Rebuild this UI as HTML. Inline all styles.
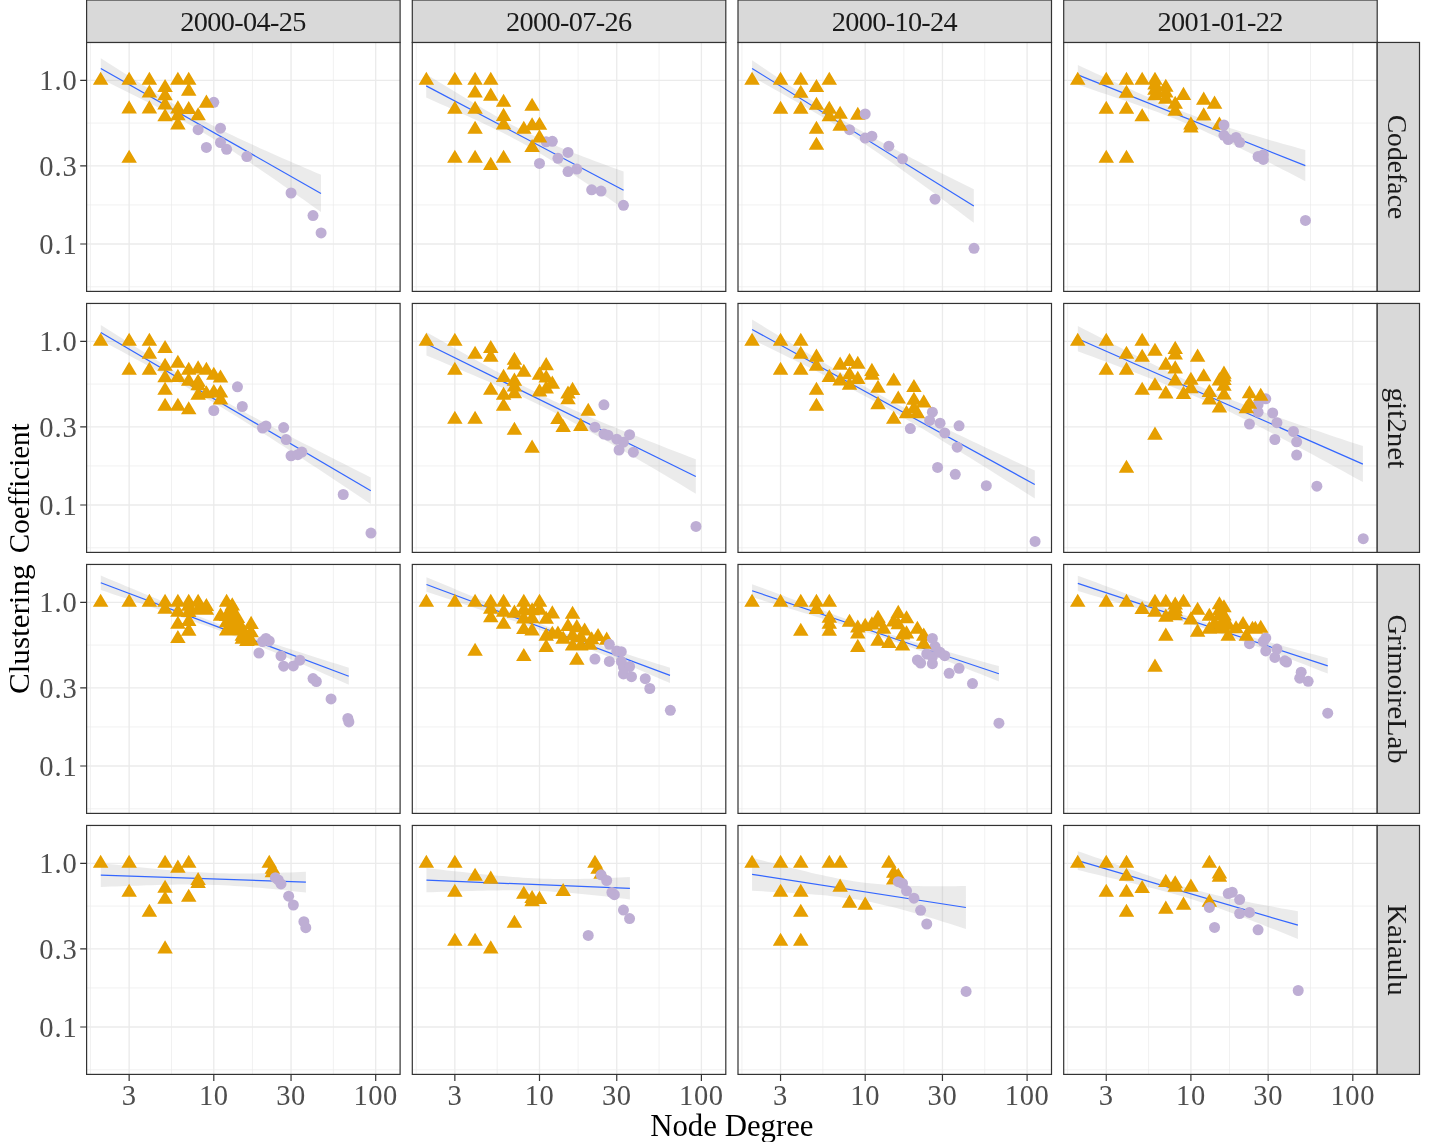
<!DOCTYPE html>
<html><head><meta charset="utf-8"><title>chart</title>
<style>html,body{margin:0;padding:0;background:#fff;overflow:hidden}svg{display:block}</style></head>
<body>
<svg width="1437" height="1142" viewBox="0 0 1437 1142" font-family="'Liberation Serif', serif">
<rect width="1437" height="1142" fill="#fff"/>
<defs><filter id="idf" x="0" y="0" width="1437" height="1142" filterUnits="userSpaceOnUse" color-interpolation-filters="sRGB"><feOffset dx="0" dy="0"/></filter>
<clipPath id="c00"><rect x="86.6" y="42.45" width="313.5" height="248.95"/></clipPath>
<clipPath id="c01"><rect x="412.3" y="42.45" width="313.5" height="248.95"/></clipPath>
<clipPath id="c02"><rect x="738" y="42.45" width="313.5" height="248.95"/></clipPath>
<clipPath id="c03"><rect x="1063.7" y="42.45" width="313.5" height="248.95"/></clipPath>
<clipPath id="c10"><rect x="86.6" y="303.45" width="313.5" height="248.95"/></clipPath>
<clipPath id="c11"><rect x="412.3" y="303.45" width="313.5" height="248.95"/></clipPath>
<clipPath id="c12"><rect x="738" y="303.45" width="313.5" height="248.95"/></clipPath>
<clipPath id="c13"><rect x="1063.7" y="303.45" width="313.5" height="248.95"/></clipPath>
<clipPath id="c20"><rect x="86.6" y="564.45" width="313.5" height="248.95"/></clipPath>
<clipPath id="c21"><rect x="412.3" y="564.45" width="313.5" height="248.95"/></clipPath>
<clipPath id="c22"><rect x="738" y="564.45" width="313.5" height="248.95"/></clipPath>
<clipPath id="c23"><rect x="1063.7" y="564.45" width="313.5" height="248.95"/></clipPath>
<clipPath id="c30"><rect x="86.6" y="825.45" width="313.5" height="248.95"/></clipPath>
<clipPath id="c31"><rect x="412.3" y="825.45" width="313.5" height="248.95"/></clipPath>
<clipPath id="c32"><rect x="738" y="825.45" width="313.5" height="248.95"/></clipPath>
<clipPath id="c33"><rect x="1063.7" y="825.45" width="313.5" height="248.95"/></clipPath>
</defs>
<g clip-path="url(#c00)">
<path d="M90.53 42.45V291.4M171.48 42.45V291.4M252.43 42.45V291.4M333.38 42.45V291.4M86.6 123.09H400.1M86.6 204.94H400.1M86.6 286.79H400.1" stroke="#EBEBEB" stroke-width="0.7" fill="none"/>
<path d="M129.15 42.45V291.4M213.8 42.45V291.4M291.05 42.45V291.4M375.7 42.45V291.4M86.6 80.3H400.1M86.6 165.9H400.1M86.6 244H400.1" stroke="#EBEBEB" stroke-width="1.35" fill="none"/>
<path d="M100.8 58.3L106.3 61.8L111.81 65.31L117.31 68.81L122.82 72.31L128.32 75.8L133.83 79.29L139.33 82.76L144.84 86.22L150.34 89.67L155.85 93.09L161.35 96.47L166.86 99.83L172.37 103.14L177.87 106.39L183.38 109.6L188.88 112.73L194.38 115.81L199.89 118.81L205.39 121.75L210.9 124.62L216.41 127.43L221.91 130.19L227.41 132.9L232.92 135.57L238.43 138.19L243.93 140.78L249.44 143.34L254.94 145.87L260.44 148.38L265.95 150.86L271.45 153.32L276.96 155.76L282.46 158.19L287.97 160.59L293.47 162.98L298.98 165.35L304.49 167.71L309.99 170.05L315.5 172.38L321 174.7L321 212.1L315.5 208.17L309.99 204.26L304.49 200.35L298.98 196.47L293.47 192.6L287.97 188.74L282.46 184.9L276.96 181.08L271.45 177.27L265.95 173.49L260.44 169.73L254.94 165.99L249.44 162.27L243.93 158.59L238.43 154.93L232.92 151.31L227.41 147.73L221.91 144.2L216.41 140.71L210.9 137.28L205.39 133.91L199.89 130.6L194.38 127.36L188.88 124.19L183.38 121.08L177.87 118.04L172.37 115.05L166.86 112.11L161.35 109.22L155.85 106.36L150.34 103.54L144.84 100.74L139.33 97.95L133.83 95.18L128.32 92.42L122.82 89.67L117.31 86.93L111.81 84.18L106.3 81.44L100.8 78.7Z" fill="#999999" fill-opacity="0.2"/>
<path d="M100.8 68.5L321 193.4" stroke="#3366FF" stroke-width="1.2" fill="none"/>
<circle cx="213.8" cy="102.3" r="5.5" fill="#BEAED4"/>
<circle cx="198.11" cy="129.7" r="5.5" fill="#BEAED4"/>
<circle cx="220.5" cy="128.2" r="5.5" fill="#BEAED4"/>
<circle cx="206.39" cy="147.4" r="5.5" fill="#BEAED4"/>
<circle cx="220.5" cy="142.5" r="5.5" fill="#BEAED4"/>
<circle cx="226.62" cy="149.3" r="5.5" fill="#BEAED4"/>
<circle cx="246.85" cy="156.6" r="5.5" fill="#BEAED4"/>
<circle cx="291.05" cy="193" r="5.5" fill="#BEAED4"/>
<circle cx="313.01" cy="215.6" r="5.5" fill="#BEAED4"/>
<circle cx="321.1" cy="232.9" r="5.5" fill="#BEAED4"/>
<path d="M100.64 71.77L108.39 84.86H92.89ZM129.15 71.77L136.9 84.86H121.4ZM149.37 71.77L157.12 84.86H141.62ZM177.88 71.77L185.63 84.86H170.13ZM188.72 71.77L196.47 84.86H180.97ZM165.06 78.97L172.81 92.06H157.31ZM149.37 84.47L157.12 97.56H141.62ZM188.72 82.57L196.47 95.66H180.97ZM165.06 87.27L172.81 100.36H157.31ZM165.06 96.37L172.81 109.46H157.31ZM129.15 100.37L136.9 113.46H121.4ZM149.37 100.37L157.12 113.46H141.62ZM165.06 108.17L172.81 121.27H157.31ZM177.88 100.37L185.63 113.46H170.13ZM188.72 100.97L196.47 114.06H180.97ZM177.88 107.27L185.63 120.36H170.13ZM177.88 116.37L185.63 129.47H170.13ZM198.11 107.27L205.86 120.36H190.36ZM206.39 94.57L214.14 107.66H198.64ZM129.15 149.67L136.9 162.77H121.4Z" fill="#E69F00"/>
</g>
<rect x="86.6" y="42.45" width="313.5" height="248.95" fill="none" stroke="#333333" stroke-width="1.2"/>
<g clip-path="url(#c01)">
<path d="M416.23 42.45V291.4M497.18 42.45V291.4M578.13 42.45V291.4M659.08 42.45V291.4M412.3 123.09H725.8M412.3 204.94H725.8M412.3 286.79H725.8" stroke="#EBEBEB" stroke-width="0.7" fill="none"/>
<path d="M454.85 42.45V291.4M539.5 42.45V291.4M616.75 42.45V291.4M701.4 42.45V291.4M412.3 80.3H725.8M412.3 165.9H725.8M412.3 244H725.8" stroke="#EBEBEB" stroke-width="1.35" fill="none"/>
<path d="M426.2 74.4L431.13 77.37L436.07 80.34L441 83.32L445.94 86.3L450.88 89.28L455.81 92.26L460.75 95.24L465.68 98.21L470.62 101.17L475.55 104.11L480.49 107.04L485.42 109.95L490.36 112.82L495.29 115.67L500.23 118.46L505.16 121.21L510.1 123.9L515.03 126.52L519.97 129.08L524.9 131.56L529.84 133.97L534.77 136.32L539.71 138.6L544.64 140.82L549.58 142.98L554.51 145.1L559.45 147.17L564.38 149.2L569.32 151.19L574.25 153.15L579.19 155.08L584.12 156.98L589.06 158.86L593.99 160.71L598.92 162.55L603.86 164.36L608.8 166.14L613.73 167.91L618.66 169.67L623.6 171.4L623.6 209L618.66 205.52L613.73 202.06L608.8 198.61L603.86 195.18L598.92 191.78L593.99 188.4L589.06 185.03L584.12 181.7L579.19 178.38L574.25 175.1L569.32 171.84L564.38 168.62L559.45 165.44L554.51 162.29L549.58 159.19L544.64 156.14L539.71 153.15L534.77 150.21L529.84 147.34L524.9 144.54L519.97 141.81L515.03 139.15L510.1 136.56L505.16 134.03L500.23 131.56L495.29 129.14L490.36 126.77L485.42 124.43L480.49 122.12L475.55 119.84L470.62 117.57L465.68 115.31L460.75 113.07L455.81 110.83L450.88 108.59L445.94 106.36L441 104.13L436.07 101.89L431.13 99.65L426.2 97.4Z" fill="#999999" fill-opacity="0.2"/>
<path d="M426.2 85.9L623.6 190.2" stroke="#3366FF" stroke-width="1.2" fill="none"/>
<circle cx="546.2" cy="141.8" r="5.5" fill="#BEAED4"/>
<circle cx="552.32" cy="141.3" r="5.5" fill="#BEAED4"/>
<circle cx="539.5" cy="163.4" r="5.5" fill="#BEAED4"/>
<circle cx="557.95" cy="158.3" r="5.5" fill="#BEAED4"/>
<circle cx="568.01" cy="152.4" r="5.5" fill="#BEAED4"/>
<circle cx="568.01" cy="171.6" r="5.5" fill="#BEAED4"/>
<circle cx="576.81" cy="169.1" r="5.5" fill="#BEAED4"/>
<circle cx="591.67" cy="189.85" r="5.5" fill="#BEAED4"/>
<circle cx="601.06" cy="191.1" r="5.5" fill="#BEAED4"/>
<circle cx="623.45" cy="205.3" r="5.5" fill="#BEAED4"/>
<path d="M426.34 71.77L434.09 84.86H418.59ZM454.85 71.77L462.6 84.86H447.1ZM475.07 71.77L482.82 84.86H467.32ZM490.76 71.77L498.51 84.86H483.01ZM475.07 84.47L482.82 97.56H467.32ZM490.76 87.57L498.51 100.66H483.01ZM503.58 93.77L511.33 106.86H495.83ZM532.09 97.67L539.84 110.77H524.34ZM454.85 100.67L462.6 113.77H447.1ZM475.07 100.67L482.82 113.77H467.32ZM503.58 107.87L511.33 120.96H495.83ZM503.58 116.37L511.33 129.47H495.83ZM475.07 120.77L482.82 133.87H467.32ZM523.81 120.77L531.56 133.87H516.06ZM532.09 117.27L539.84 130.37H524.34ZM539.5 116.67L547.25 129.77H531.75ZM539.5 129.37L547.25 142.47H531.75ZM532.09 138.97L539.84 152.06H524.34ZM454.85 149.67L462.6 162.77H447.1ZM475.07 149.67L482.82 162.77H467.32ZM503.58 149.67L511.33 162.77H495.83ZM490.76 156.87L498.51 169.97H483.01Z" fill="#E69F00"/>
</g>
<rect x="412.3" y="42.45" width="313.5" height="248.95" fill="none" stroke="#333333" stroke-width="1.2"/>
<g clip-path="url(#c02)">
<path d="M741.93 42.45V291.4M822.88 42.45V291.4M903.83 42.45V291.4M984.78 42.45V291.4M738 123.09H1051.5M738 204.94H1051.5M738 286.79H1051.5" stroke="#EBEBEB" stroke-width="0.7" fill="none"/>
<path d="M780.55 42.45V291.4M865.2 42.45V291.4M942.45 42.45V291.4M1027.1 42.45V291.4M738 80.3H1051.5M738 165.9H1051.5M738 244H1051.5" stroke="#EBEBEB" stroke-width="1.35" fill="none"/>
<path d="M752.1 60.3L757.64 64.04L763.19 67.78L768.73 71.53L774.27 75.27L779.81 79.01L785.36 82.74L790.9 86.46L796.44 90.17L801.98 93.87L807.52 97.54L813.07 101.19L818.61 104.8L824.15 108.37L829.69 111.9L835.24 115.37L840.78 118.78L846.32 122.14L851.87 125.43L857.41 128.66L862.95 131.84L868.49 134.97L874.03 138.06L879.58 141.1L885.12 144.11L890.66 147.08L896.2 150.03L901.75 152.94L907.29 155.84L912.83 158.71L918.38 161.56L923.92 164.4L929.46 167.21L935 170.01L940.54 172.8L946.09 175.56L951.63 178.32L957.17 181.06L962.71 183.79L968.26 186.5L973.8 189.2L973.8 222.8L968.26 218.63L962.71 214.46L957.17 210.32L951.63 206.18L946.09 202.06L940.54 197.95L935 193.86L929.46 189.79L923.92 185.73L918.38 181.69L912.83 177.66L907.29 173.66L901.75 169.68L896.2 165.72L890.66 161.79L885.12 157.89L879.58 154.02L874.03 150.19L868.49 146.4L862.95 142.66L857.41 138.96L851.87 135.32L846.32 131.74L840.78 128.22L835.24 124.76L829.69 121.35L824.15 118L818.61 114.7L813.07 111.44L807.52 108.21L801.98 105.01L796.44 101.83L790.9 98.66L785.36 95.51L779.81 92.37L774.27 89.23L768.73 86.1L763.19 82.97L757.64 79.83L752.1 76.7Z" fill="#999999" fill-opacity="0.2"/>
<path d="M752.1 68.5L973.8 206" stroke="#3366FF" stroke-width="1.2" fill="none"/>
<circle cx="849.51" cy="129.7" r="5.5" fill="#BEAED4"/>
<circle cx="865.2" cy="138.1" r="5.5" fill="#BEAED4"/>
<circle cx="871.9" cy="136.2" r="5.5" fill="#BEAED4"/>
<circle cx="888.86" cy="146.2" r="5.5" fill="#BEAED4"/>
<circle cx="902.51" cy="158.8" r="5.5" fill="#BEAED4"/>
<circle cx="935.04" cy="199.2" r="5.5" fill="#BEAED4"/>
<circle cx="974.01" cy="248.3" r="5.5" fill="#BEAED4"/>
<path d="M752.04 71.77L759.79 84.86H744.29ZM780.55 71.77L788.3 84.86H772.8ZM800.77 71.77L808.52 84.86H793.02ZM829.28 71.77L837.03 84.86H821.53ZM816.46 78.97L824.21 92.06H808.71ZM800.77 84.67L808.52 97.77H793.02ZM816.46 96.77L824.21 109.86H808.71ZM780.55 100.67L788.3 113.77H772.8ZM800.77 100.67L808.52 113.77H793.02ZM829.28 100.67L837.03 113.77H821.53ZM829.28 108.17L837.03 121.27H821.53ZM840.12 105.77L847.87 118.86H832.37ZM857.79 106.77L865.54 119.86H850.04ZM840.12 117.57L847.87 130.66H832.37ZM816.46 120.77L824.21 133.87H808.71ZM816.46 136.67L824.21 149.77H808.71Z" fill="#E69F00"/>
<circle cx="865.2" cy="114" r="5.5" fill="#BEAED4"/>
</g>
<rect x="738" y="42.45" width="313.5" height="248.95" fill="none" stroke="#333333" stroke-width="1.2"/>
<g clip-path="url(#c03)">
<path d="M1067.63 42.45V291.4M1148.58 42.45V291.4M1229.53 42.45V291.4M1310.48 42.45V291.4M1063.7 123.09H1377.2M1063.7 204.94H1377.2M1063.7 286.79H1377.2" stroke="#EBEBEB" stroke-width="0.7" fill="none"/>
<path d="M1106.25 42.45V291.4M1190.9 42.45V291.4M1268.15 42.45V291.4M1352.8 42.45V291.4M1063.7 80.3H1377.2M1063.7 165.9H1377.2M1063.7 244H1377.2" stroke="#EBEBEB" stroke-width="1.35" fill="none"/>
<path d="M1077.85 65.1L1083.54 67.71L1089.22 70.33L1094.91 72.95L1100.59 75.56L1106.28 78.18L1111.97 80.79L1117.65 83.39L1123.34 85.98L1129.03 88.57L1134.71 91.14L1140.4 93.69L1146.09 96.21L1151.77 98.71L1157.46 101.17L1163.14 103.59L1168.83 105.95L1174.52 108.27L1180.2 110.53L1185.89 112.72L1191.57 114.86L1197.26 116.94L1202.95 118.96L1208.63 120.93L1214.32 122.85L1220.01 124.73L1225.69 126.58L1231.38 128.39L1237.07 130.17L1242.75 131.93L1248.44 133.66L1254.12 135.36L1259.81 137.05L1265.5 138.73L1271.18 140.38L1276.87 142.02L1282.55 143.64L1288.24 145.25L1293.93 146.85L1299.61 148.43L1305.3 150L1305.3 181.2L1299.61 178.24L1293.93 175.28L1288.24 172.34L1282.55 169.42L1276.87 166.51L1271.18 163.61L1265.5 160.73L1259.81 157.87L1254.12 155.02L1248.44 152.19L1242.75 149.39L1237.07 146.61L1231.38 143.86L1225.69 141.13L1220.01 138.44L1214.32 135.79L1208.63 133.18L1202.95 130.61L1197.26 128.1L1191.57 125.64L1185.89 123.24L1180.2 120.9L1174.52 118.62L1168.83 116.41L1163.14 114.24L1157.46 112.12L1151.77 110.05L1146.09 108.01L1140.4 106L1134.71 104.01L1129.03 102.05L1123.34 100.1L1117.65 98.16L1111.97 96.22L1106.28 94.3L1100.59 92.38L1094.91 90.46L1089.22 88.54L1083.54 86.62L1077.85 84.7Z" fill="#999999" fill-opacity="0.2"/>
<path d="M1077.85 74.9L1305.3 165.6" stroke="#3366FF" stroke-width="1.2" fill="none"/>
<circle cx="1223.95" cy="135.3" r="5.5" fill="#BEAED4"/>
<circle cx="1228.21" cy="139.5" r="5.5" fill="#BEAED4"/>
<circle cx="1236.03" cy="137.5" r="5.5" fill="#BEAED4"/>
<circle cx="1239.64" cy="142.3" r="5.5" fill="#BEAED4"/>
<circle cx="1258.08" cy="156.5" r="5.5" fill="#BEAED4"/>
<circle cx="1263.29" cy="154.8" r="5.5" fill="#BEAED4"/>
<circle cx="1263.29" cy="159.4" r="5.5" fill="#BEAED4"/>
<circle cx="1305.46" cy="220.4" r="5.5" fill="#BEAED4"/>
<path d="M1077.74 71.77L1085.49 84.86H1069.99ZM1106.25 71.77L1114 84.86H1098.5ZM1126.47 71.77L1134.22 84.86H1118.72ZM1142.16 71.77L1149.91 84.86H1134.41ZM1154.98 71.77L1162.73 84.86H1147.23ZM1126.47 84.67L1134.22 97.77H1118.72ZM1154.98 76.47L1162.73 89.56H1147.23ZM1154.98 81.57L1162.73 94.66H1147.23ZM1154.98 87.27L1162.73 100.36H1147.23ZM1165.82 78.77L1173.57 91.86H1158.07ZM1165.82 84.47L1173.57 97.56H1158.07ZM1165.82 90.77L1173.57 103.86H1158.07ZM1175.21 95.77L1182.96 108.86H1167.46ZM1175.21 102.67L1182.96 115.77H1167.46ZM1183.49 86.87L1191.24 99.96H1175.74ZM1106.25 100.67L1114 113.77H1098.5ZM1126.47 100.67L1134.22 113.77H1118.72ZM1142.16 108.17L1149.91 121.27H1134.41ZM1190.9 116.37L1198.65 129.47H1183.15ZM1190.9 119.47L1198.65 132.56H1183.15ZM1203.72 91.57L1211.47 104.66H1195.97ZM1203.72 107.37L1211.47 120.46H1195.97ZM1214.56 95.57L1222.31 108.66H1206.81ZM1219.41 116.47L1227.16 129.56H1211.66ZM1106.25 149.67L1114 162.77H1098.5ZM1126.47 149.67L1134.22 162.77H1118.72Z" fill="#E69F00"/>
<circle cx="1223.95" cy="125" r="5.5" fill="#BEAED4"/>
</g>
<rect x="1063.7" y="42.45" width="313.5" height="248.95" fill="none" stroke="#333333" stroke-width="1.2"/>
<g clip-path="url(#c10)">
<path d="M90.53 303.45V552.4M171.48 303.45V552.4M252.43 303.45V552.4M333.38 303.45V552.4M86.6 384.09H400.1M86.6 465.94H400.1M86.6 547.79H400.1" stroke="#EBEBEB" stroke-width="0.7" fill="none"/>
<path d="M129.15 303.45V552.4M213.8 303.45V552.4M291.05 303.45V552.4M375.7 303.45V552.4M86.6 341.3H400.1M86.6 426.9H400.1M86.6 505H400.1" stroke="#EBEBEB" stroke-width="1.35" fill="none"/>
<path d="M100.8 325L107.55 329.27L114.3 333.53L121.05 337.79L127.8 342.05L134.55 346.31L141.3 350.55L148.05 354.79L154.8 359.02L161.55 363.23L168.3 367.42L175.05 371.59L181.8 375.73L188.55 379.83L195.3 383.9L202.05 387.91L208.8 391.88L215.55 395.8L222.3 399.66L229.05 403.48L235.8 407.24L242.55 410.96L249.3 414.64L256.05 418.29L262.8 421.9L269.55 425.49L276.3 429.06L283.05 432.6L289.8 436.13L296.55 439.64L303.3 443.14L310.05 446.62L316.8 450.09L323.55 453.55L330.3 457L337.05 460.44L343.8 463.87L350.55 467.29L357.3 470.7L364.05 474.1L370.8 477.5L370.8 503.9L364.05 499.39L357.3 494.89L350.55 490.4L343.8 485.91L337.05 481.44L330.3 476.97L323.55 472.51L316.8 468.07L310.05 463.63L303.3 459.21L296.55 454.8L289.8 450.41L283.05 446.03L276.3 441.67L269.55 437.33L262.8 433.02L256.05 428.73L249.3 424.47L242.55 420.25L235.8 416.06L229.05 411.92L222.3 407.83L215.55 403.79L208.8 399.8L202.05 395.86L195.3 391.97L188.55 388.13L181.8 384.33L175.05 380.57L168.3 376.83L161.55 373.12L154.8 369.42L148.05 365.74L141.3 362.08L134.55 358.42L127.8 354.77L121.05 351.12L114.3 347.48L107.55 343.84L100.8 340.2Z" fill="#999999" fill-opacity="0.2"/>
<path d="M100.8 332.6L370.8 490.7" stroke="#3366FF" stroke-width="1.2" fill="none"/>
<circle cx="237.46" cy="386.8" r="5.5" fill="#BEAED4"/>
<circle cx="213.8" cy="410.5" r="5.5" fill="#BEAED4"/>
<circle cx="242.31" cy="406.5" r="5.5" fill="#BEAED4"/>
<circle cx="262.54" cy="428" r="5.5" fill="#BEAED4"/>
<circle cx="265.97" cy="425.9" r="5.5" fill="#BEAED4"/>
<circle cx="283.64" cy="427.6" r="5.5" fill="#BEAED4"/>
<circle cx="286.19" cy="439.6" r="5.5" fill="#BEAED4"/>
<circle cx="291.05" cy="455.8" r="5.5" fill="#BEAED4"/>
<circle cx="297.75" cy="454.7" r="5.5" fill="#BEAED4"/>
<circle cx="301.88" cy="452.1" r="5.5" fill="#BEAED4"/>
<circle cx="343.21" cy="494.5" r="5.5" fill="#BEAED4"/>
<circle cx="370.97" cy="533.1" r="5.5" fill="#BEAED4"/>
<path d="M100.64 332.77L108.39 345.87H92.89ZM129.15 332.77L136.9 345.87H121.4ZM149.37 332.77L157.12 345.87H141.62ZM165.06 339.97L172.81 353.06H157.31ZM149.37 345.67L157.12 358.76H141.62ZM129.15 361.67L136.9 374.76H121.4ZM149.37 361.67L157.12 374.76H141.62ZM165.06 357.77L172.81 370.87H157.31ZM165.06 369.17L172.81 382.26H157.31ZM165.06 381.77L172.81 394.87H157.31ZM165.06 397.77L172.81 410.87H157.31ZM177.88 354.67L185.63 367.76H170.13ZM177.88 368.87L185.63 381.97H170.13ZM177.88 397.77L185.63 410.87H170.13ZM188.72 361.77L196.47 374.87H180.97ZM188.72 372.57L196.47 385.67H180.97ZM188.72 401.27L196.47 414.37H180.97ZM198.11 360.37L205.86 373.47H190.36ZM198.11 373.67L205.86 386.76H190.36ZM198.11 377.07L205.86 390.17H190.36ZM198.11 386.67L205.86 399.76H190.36ZM206.39 361.77L214.14 374.87H198.64ZM206.39 385.27L214.14 398.37H198.64ZM213.8 366.67L221.55 379.76H206.05ZM213.8 383.97L221.55 397.06H206.05ZM220.5 369.47L228.25 382.56H212.75ZM220.5 384.47L228.25 397.56H212.75ZM220.5 391.37L228.25 404.47H212.75Z" fill="#E69F00"/>
</g>
<rect x="86.6" y="303.45" width="313.5" height="248.95" fill="none" stroke="#333333" stroke-width="1.2"/>
<g clip-path="url(#c11)">
<path d="M416.23 303.45V552.4M497.18 303.45V552.4M578.13 303.45V552.4M659.08 303.45V552.4M412.3 384.09H725.8M412.3 465.94H725.8M412.3 547.79H725.8" stroke="#EBEBEB" stroke-width="0.7" fill="none"/>
<path d="M454.85 303.45V552.4M539.5 303.45V552.4M616.75 303.45V552.4M701.4 303.45V552.4M412.3 341.3H725.8M412.3 426.9H725.8M412.3 505H725.8" stroke="#EBEBEB" stroke-width="1.35" fill="none"/>
<path d="M426.45 332.2L433.18 336L439.92 339.8L446.65 343.6L453.38 347.39L460.12 351.17L466.85 354.95L473.59 358.71L480.32 362.46L487.05 366.2L493.79 369.9L500.52 373.59L507.25 377.23L513.99 380.84L520.72 384.39L527.46 387.89L534.19 391.32L540.92 394.67L547.66 397.96L554.39 401.16L561.12 404.3L567.86 407.36L574.59 410.37L581.33 413.32L588.06 416.22L594.79 419.07L601.53 421.9L608.26 424.69L614.99 427.45L621.73 430.19L628.46 432.91L635.2 435.61L641.93 438.29L648.66 440.96L655.4 443.61L662.13 446.25L668.87 448.88L675.6 451.5L682.33 454.11L689.07 456.71L695.8 459.3L695.8 493.7L689.07 489.65L682.33 485.62L675.6 481.59L668.87 477.58L662.13 473.57L655.4 469.58L648.66 465.6L641.93 461.63L635.2 457.68L628.46 453.74L621.73 449.83L614.99 445.93L608.26 442.06L601.53 438.21L594.79 434.4L588.06 430.62L581.33 426.89L574.59 423.2L567.86 419.57L561.12 416L554.39 412.5L547.66 409.07L540.92 405.72L534.19 402.44L527.46 399.24L520.72 396.1L513.99 393.02L507.25 389.99L500.52 387L493.79 384.05L487.05 381.12L480.32 378.22L473.59 375.33L466.85 372.46L460.12 369.6L453.38 366.75L446.65 363.91L439.92 361.07L433.18 358.23L426.45 355.4Z" fill="#999999" fill-opacity="0.2"/>
<path d="M426.45 343.8L695.8 476.5" stroke="#3366FF" stroke-width="1.2" fill="none"/>
<circle cx="603.93" cy="404.8" r="5.5" fill="#BEAED4"/>
<circle cx="594.94" cy="427.2" r="5.5" fill="#BEAED4"/>
<circle cx="603.93" cy="434" r="5.5" fill="#BEAED4"/>
<circle cx="608.02" cy="435.2" r="5.5" fill="#BEAED4"/>
<circle cx="616.75" cy="439.2" r="5.5" fill="#BEAED4"/>
<circle cx="629.57" cy="434.7" r="5.5" fill="#BEAED4"/>
<circle cx="623.45" cy="442.2" r="5.5" fill="#BEAED4"/>
<circle cx="619.05" cy="450" r="5.5" fill="#BEAED4"/>
<circle cx="633.37" cy="452.2" r="5.5" fill="#BEAED4"/>
<circle cx="695.99" cy="526.4" r="5.5" fill="#BEAED4"/>
<path d="M426.34 332.77L434.09 345.87H418.59ZM454.85 332.77L462.6 345.87H447.1ZM475.07 345.67L482.82 358.76H467.32ZM490.76 339.97L498.51 353.06H483.01ZM490.76 348.57L498.51 361.67H483.01ZM454.85 361.67L462.6 374.76H447.1ZM514.42 351.77L522.17 364.87H506.67ZM514.42 356.47L522.17 369.56H506.67ZM523.81 363.77L531.56 376.87H516.06ZM503.58 368.87L511.33 381.97H495.83ZM514.42 372.57L522.17 385.67H506.67ZM514.42 378.47L522.17 391.56H506.67ZM514.42 385.27L522.17 398.37H506.67ZM490.76 381.77L498.51 394.87H483.01ZM503.58 386.67L511.33 399.76H495.83ZM503.58 397.67L511.33 410.76H495.83ZM546.2 357.07L553.95 370.17H538.45ZM539.5 366.57L547.25 379.67H531.75ZM546.2 369.47L553.95 382.56H538.45ZM552.32 375.57L560.07 388.67H544.57ZM546.2 380.37L553.95 393.47H538.45ZM539.5 383.37L547.25 396.47H531.75ZM454.85 410.67L462.6 423.76H447.1ZM475.07 410.67L482.82 423.76H467.32ZM514.42 421.67L522.17 434.76H506.67ZM557.95 410.97L565.7 424.06H550.2ZM563.16 418.97L570.91 432.06H555.41ZM572.55 381.87L580.3 394.97H564.8ZM568.01 385.47L575.76 398.56H560.26ZM568.01 391.17L575.76 404.26H560.26ZM588.24 402.67L595.99 415.76H580.49ZM580.83 417.87L588.58 430.97H573.08ZM532.09 439.57L539.84 452.67H524.34Z" fill="#E69F00"/>
</g>
<rect x="412.3" y="303.45" width="313.5" height="248.95" fill="none" stroke="#333333" stroke-width="1.2"/>
<g clip-path="url(#c12)">
<path d="M741.93 303.45V552.4M822.88 303.45V552.4M903.83 303.45V552.4M984.78 303.45V552.4M738 384.09H1051.5M738 465.94H1051.5M738 547.79H1051.5" stroke="#EBEBEB" stroke-width="0.7" fill="none"/>
<path d="M780.55 303.45V552.4M865.2 303.45V552.4M942.45 303.45V552.4M1027.1 303.45V552.4M738 341.3H1051.5M738 426.9H1051.5M738 505H1051.5" stroke="#EBEBEB" stroke-width="1.35" fill="none"/>
<path d="M752.1 319.6L759.17 323.87L766.24 328.15L773.3 332.42L780.37 336.68L787.44 340.95L794.5 345.2L801.57 349.45L808.64 353.69L815.71 357.91L822.77 362.12L829.84 366.3L836.91 370.46L843.98 374.59L851.04 378.69L858.11 382.73L865.18 386.73L872.25 390.67L879.32 394.56L886.38 398.38L893.45 402.14L900.52 405.84L907.59 409.48L914.65 413.08L921.72 416.64L928.79 420.15L935.86 423.64L942.92 427.09L949.99 430.52L957.06 433.93L964.12 437.32L971.19 440.69L978.26 444.05L985.33 447.39L992.39 450.72L999.46 454.04L1006.53 457.35L1013.6 460.65L1020.66 463.94L1027.73 467.23L1034.8 470.5L1034.8 498.5L1027.73 494.02L1020.66 489.56L1013.6 485.1L1006.53 480.65L999.46 476.21L992.39 471.78L985.33 467.36L978.26 462.95L971.19 458.56L964.12 454.18L957.06 449.82L949.99 445.48L942.92 441.16L935.86 436.86L928.79 432.6L921.72 428.36L914.65 424.17L907.59 420.02L900.52 415.91L893.45 411.86L886.38 407.87L879.32 403.94L872.25 400.08L865.18 396.27L858.11 392.52L851.04 388.81L843.98 385.16L836.91 381.54L829.84 377.95L822.77 374.38L815.71 370.84L808.64 367.31L801.57 363.8L794.5 360.3L787.44 356.8L780.37 353.32L773.3 349.83L766.24 346.35L759.17 342.88L752.1 339.4Z" fill="#999999" fill-opacity="0.2"/>
<path d="M752.1 329.5L1034.8 484.5" stroke="#3366FF" stroke-width="1.2" fill="none"/>
<circle cx="932.38" cy="412.2" r="5.5" fill="#BEAED4"/>
<circle cx="929.63" cy="420.4" r="5.5" fill="#BEAED4"/>
<circle cx="940.06" cy="423.2" r="5.5" fill="#BEAED4"/>
<circle cx="944.75" cy="432.9" r="5.5" fill="#BEAED4"/>
<circle cx="959.07" cy="425.85" r="5.5" fill="#BEAED4"/>
<circle cx="910.33" cy="428.6" r="5.5" fill="#BEAED4"/>
<circle cx="957.19" cy="447.2" r="5.5" fill="#BEAED4"/>
<circle cx="937.59" cy="467.4" r="5.5" fill="#BEAED4"/>
<circle cx="955.27" cy="474.3" r="5.5" fill="#BEAED4"/>
<circle cx="986.33" cy="485.7" r="5.5" fill="#BEAED4"/>
<circle cx="1035.07" cy="541.4" r="5.5" fill="#BEAED4"/>
<path d="M752.04 332.77L759.79 345.87H744.29ZM780.55 332.77L788.3 345.87H772.8ZM800.77 332.77L808.52 345.87H793.02ZM800.77 345.67L808.52 358.76H793.02ZM816.46 348.57L824.21 361.67H808.71ZM816.46 357.77L824.21 370.87H808.71ZM780.55 361.67L788.3 374.76H772.8ZM800.77 361.67L808.52 374.76H793.02ZM829.28 368.87L837.03 381.97H821.53ZM816.46 381.77L824.21 394.87H808.71ZM816.46 397.67L824.21 410.76H808.71ZM840.12 356.57L847.87 369.67H832.37ZM840.12 372.37L847.87 385.47H832.37ZM849.51 352.97L857.26 366.06H841.76ZM849.51 366.27L857.26 379.37H841.76ZM849.51 376.77L857.26 389.87H841.76ZM857.79 355.77L865.54 368.87H850.04ZM857.79 370.87L865.54 383.97H850.04ZM871.9 362.87L879.65 375.97H864.15ZM871.9 366.57L879.65 379.67H864.15ZM878.02 379.77L885.77 392.87H870.27ZM878.02 396.07L885.77 409.17H870.27ZM893.71 372.47L901.46 385.56H885.96ZM898.25 390.47L906 403.56H890.5ZM893.71 410.67L901.46 423.76H885.96ZM913.94 378.97L921.69 392.06H906.19ZM913.94 391.77L921.69 404.87H906.19ZM923.76 394.37L931.51 407.47H916.01ZM906.53 405.07L914.28 418.17H898.78ZM917.37 405.07L925.12 418.17H909.62ZM913.94 400.27L921.69 413.37H906.19Z" fill="#E69F00"/>
</g>
<rect x="738" y="303.45" width="313.5" height="248.95" fill="none" stroke="#333333" stroke-width="1.2"/>
<g clip-path="url(#c13)">
<path d="M1067.63 303.45V552.4M1148.58 303.45V552.4M1229.53 303.45V552.4M1310.48 303.45V552.4M1063.7 384.09H1377.2M1063.7 465.94H1377.2M1063.7 547.79H1377.2" stroke="#EBEBEB" stroke-width="0.7" fill="none"/>
<path d="M1106.25 303.45V552.4M1190.9 303.45V552.4M1268.15 303.45V552.4M1352.8 303.45V552.4M1063.7 341.3H1377.2M1063.7 426.9H1377.2M1063.7 505H1377.2" stroke="#EBEBEB" stroke-width="1.35" fill="none"/>
<path d="M1077.85 326.1L1084.98 329.73L1092.1 333.36L1099.23 336.99L1106.36 340.61L1113.48 344.23L1120.61 347.85L1127.73 351.45L1134.86 355.05L1141.99 358.63L1149.11 362.19L1156.24 365.73L1163.37 369.23L1170.49 372.7L1177.62 376.13L1184.74 379.49L1191.87 382.8L1199 386.04L1206.12 389.2L1213.25 392.28L1220.38 395.28L1227.5 398.21L1234.63 401.06L1241.75 403.84L1248.88 406.57L1256.01 409.25L1263.13 411.88L1270.26 414.47L1277.38 417.03L1284.51 419.56L1291.64 422.06L1298.76 424.54L1305.89 427L1313.02 429.44L1320.14 431.86L1327.27 434.27L1334.39 436.66L1341.52 439.04L1348.65 441.4L1355.77 443.76L1362.9 446.1L1362.9 482.1L1355.77 478.17L1348.65 474.26L1341.52 470.35L1334.39 466.46L1327.27 462.58L1320.14 458.72L1313.02 454.87L1305.89 451.04L1298.76 447.23L1291.64 443.44L1284.51 439.67L1277.38 435.93L1270.26 432.22L1263.13 428.54L1256.01 424.9L1248.88 421.31L1241.75 417.77L1234.63 414.28L1227.5 410.86L1220.38 407.52L1213.25 404.25L1206.12 401.06L1199 397.95L1191.87 394.92L1184.74 391.96L1177.62 389.05L1170.49 386.21L1163.37 383.41L1156.24 380.64L1149.11 377.91L1141.99 375.2L1134.86 372.51L1127.73 369.84L1120.61 367.17L1113.48 364.52L1106.36 361.87L1099.23 359.22L1092.1 356.58L1084.98 353.94L1077.85 351.3Z" fill="#999999" fill-opacity="0.2"/>
<path d="M1077.85 338.7L1362.9 464.1" stroke="#3366FF" stroke-width="1.2" fill="none"/>
<circle cx="1265.76" cy="398.8" r="5.5" fill="#BEAED4"/>
<circle cx="1258.08" cy="404.5" r="5.5" fill="#BEAED4"/>
<circle cx="1258.08" cy="412.2" r="5.5" fill="#BEAED4"/>
<circle cx="1272.68" cy="413" r="5.5" fill="#BEAED4"/>
<circle cx="1276.95" cy="422.7" r="5.5" fill="#BEAED4"/>
<circle cx="1249.46" cy="424.1" r="5.5" fill="#BEAED4"/>
<circle cx="1293.46" cy="431.5" r="5.5" fill="#BEAED4"/>
<circle cx="1274.85" cy="439.5" r="5.5" fill="#BEAED4"/>
<circle cx="1296.66" cy="441.8" r="5.5" fill="#BEAED4"/>
<circle cx="1296.66" cy="455.1" r="5.5" fill="#BEAED4"/>
<circle cx="1316.88" cy="486.2" r="5.5" fill="#BEAED4"/>
<circle cx="1363.24" cy="538.7" r="5.5" fill="#BEAED4"/>
<path d="M1077.74 332.77L1085.49 345.87H1069.99ZM1106.25 332.77L1114 345.87H1098.5ZM1142.16 332.77L1149.91 345.87H1134.41ZM1126.47 345.67L1134.22 358.76H1118.72ZM1142.16 348.67L1149.91 361.76H1134.41ZM1154.98 342.77L1162.73 355.87H1147.23ZM1175.21 340.87L1182.96 353.97H1167.46ZM1175.21 346.37L1182.96 359.47H1167.46ZM1197.6 348.57L1205.35 361.67H1189.85ZM1106.25 361.67L1114 374.76H1098.5ZM1126.47 361.67L1134.22 374.76H1118.72ZM1165.82 356.57L1173.57 369.67H1158.07ZM1175.21 360.37L1182.96 373.47H1167.46ZM1175.21 372.37L1182.96 385.47H1167.46ZM1190.9 371.77L1198.65 384.87H1183.15ZM1203.72 368.27L1211.47 381.37H1195.97ZM1154.98 377.17L1162.73 390.26H1147.23ZM1142.16 381.77L1149.91 394.87H1134.41ZM1165.82 385.37L1173.57 398.47H1158.07ZM1183.49 385.87L1191.24 398.97H1175.74ZM1190.9 380.07L1198.65 393.17H1183.15ZM1209.35 383.97L1217.1 397.06H1201.6ZM1209.35 391.47L1217.1 404.56H1201.6ZM1154.98 426.57L1162.73 439.67H1147.23ZM1223.95 365.57L1231.7 378.67H1216.2ZM1219.41 372.37L1227.16 385.47H1211.66ZM1223.95 368.37L1231.7 381.47H1216.2ZM1223.95 371.87L1231.7 384.97H1216.2ZM1223.95 377.77L1231.7 390.87H1216.2ZM1223.95 386.47L1231.7 399.56H1216.2ZM1219.41 399.47L1227.16 412.56H1211.66ZM1249.46 385.17L1257.21 398.26H1241.71ZM1246.34 400.27L1254.09 413.37H1238.59ZM1249.46 395.67L1257.21 408.76H1241.71ZM1260.74 387.77L1268.49 400.87H1252.99ZM1126.47 459.67L1134.22 472.76H1118.72Z" fill="#E69F00"/>
</g>
<rect x="1063.7" y="303.45" width="313.5" height="248.95" fill="none" stroke="#333333" stroke-width="1.2"/>
<g clip-path="url(#c20)">
<path d="M90.53 564.45V813.4M171.48 564.45V813.4M252.43 564.45V813.4M333.38 564.45V813.4M86.6 645.09H400.1M86.6 726.94H400.1M86.6 808.79H400.1" stroke="#EBEBEB" stroke-width="0.7" fill="none"/>
<path d="M129.15 564.45V813.4M213.8 564.45V813.4M291.05 564.45V813.4M375.7 564.45V813.4M86.6 602.3H400.1M86.6 687.9H400.1M86.6 766H400.1" stroke="#EBEBEB" stroke-width="1.35" fill="none"/>
<path d="M100.8 575.6L107 578.18L113.2 580.76L119.4 583.34L125.6 585.93L131.8 588.51L138 591.1L144.2 593.68L150.4 596.27L156.6 598.85L162.8 601.42L169 604L175.2 606.56L181.4 609.11L187.6 611.66L193.8 614.18L200 616.69L206.2 619.17L212.4 621.62L218.6 624.04L224.8 626.42L231 628.76L237.2 631.05L243.4 633.3L249.6 635.51L255.8 637.68L262 639.82L268.2 641.93L274.4 644L280.6 646.06L286.8 648.09L293 650.11L299.2 652.11L305.4 654.1L311.6 656.07L317.8 658.03L324 659.98L330.2 661.93L336.4 663.86L342.6 665.78L348.8 667.7L348.8 684.7L342.6 681.95L336.4 679.2L330.2 676.46L324 673.74L317.8 671.02L311.6 668.31L305.4 665.61L299.2 662.93L293 660.26L286.8 657.61L280.6 654.97L274.4 652.36L268.2 649.76L262 647.2L255.8 644.67L249.6 642.17L243.4 639.71L237.2 637.29L231 634.91L224.8 632.58L218.6 630.29L212.4 628.04L206.2 625.82L200 623.63L193.8 621.47L187.6 619.32L181.4 617.2L175.2 615.08L169 612.97L162.8 610.88L156.6 608.78L150.4 606.69L144.2 604.61L138 602.52L131.8 600.44L125.6 598.35L119.4 596.27L113.2 594.18L107 592.09L100.8 590Z" fill="#999999" fill-opacity="0.2"/>
<path d="M100.8 582.8L348.8 676.2" stroke="#3366FF" stroke-width="1.2" fill="none"/>
<circle cx="265.97" cy="638.4" r="5.5" fill="#BEAED4"/>
<circle cx="269.24" cy="640.9" r="5.5" fill="#BEAED4"/>
<circle cx="262.54" cy="641.5" r="5.5" fill="#BEAED4"/>
<circle cx="258.93" cy="653.1" r="5.5" fill="#BEAED4"/>
<circle cx="280.98" cy="655.9" r="5.5" fill="#BEAED4"/>
<circle cx="283.64" cy="666.2" r="5.5" fill="#BEAED4"/>
<circle cx="293.35" cy="665.9" r="5.5" fill="#BEAED4"/>
<circle cx="299.85" cy="660.2" r="5.5" fill="#BEAED4"/>
<circle cx="313.01" cy="678.6" r="5.5" fill="#BEAED4"/>
<circle cx="316.36" cy="681.5" r="5.5" fill="#BEAED4"/>
<circle cx="331.06" cy="698.9" r="5.5" fill="#BEAED4"/>
<circle cx="347.86" cy="718.4" r="5.5" fill="#BEAED4"/>
<circle cx="348.89" cy="721.9" r="5.5" fill="#BEAED4"/>
<path d="M100.64 593.77L108.39 606.87H92.89ZM129.15 593.77L136.9 606.87H121.4ZM149.37 593.77L157.12 606.87H141.62ZM165.06 593.77L172.81 606.87H157.31ZM177.88 593.77L185.63 606.87H170.13ZM188.72 593.77L196.47 606.87H180.97ZM198.11 593.77L205.86 606.87H190.36ZM226.62 593.77L234.37 606.87H218.87ZM206.39 597.97L214.14 611.07H198.64ZM232.25 597.37L240 610.47H224.5ZM165.06 600.77L172.81 613.87H157.31ZM177.88 603.57L185.63 616.66H170.13ZM188.72 603.87L196.47 616.97H180.97ZM198.11 601.57L205.86 614.66H190.36ZM206.39 601.57L214.14 614.66H198.64ZM177.88 615.67L185.63 628.76H170.13ZM188.72 612.97L196.47 626.07H180.97ZM188.72 622.57L196.47 635.66H180.97ZM177.88 629.97L185.63 643.07H170.13ZM220.5 607.57L228.25 620.66H212.75ZM226.62 607.87L234.37 620.97H218.87ZM232.25 609.87L240 622.97H224.5ZM237.46 609.87L245.21 622.97H229.71ZM226.62 622.37L234.37 635.47H218.87ZM232.25 622.37L240 635.47H224.5ZM237.46 614.67L245.21 627.76H229.71ZM242.31 627.57L250.06 640.66H234.56ZM242.31 630.57L250.06 643.66H234.56ZM246.85 632.87L254.6 645.97H239.1ZM251.11 615.87L258.86 628.97H243.36ZM251.11 624.17L258.86 637.26H243.36ZM251.11 632.37L258.86 645.47H243.36ZM246.85 630.17L254.6 643.26H239.1ZM188.72 597.77L196.47 610.87H180.97ZM232.25 602.27L240 615.37H224.5ZM226.62 614.27L234.37 627.37H218.87ZM237.46 619.77L245.21 632.87H229.71ZM242.31 620.77L250.06 633.87H234.56Z" fill="#E69F00"/>
</g>
<rect x="86.6" y="564.45" width="313.5" height="248.95" fill="none" stroke="#333333" stroke-width="1.2"/>
<g clip-path="url(#c21)">
<path d="M416.23 564.45V813.4M497.18 564.45V813.4M578.13 564.45V813.4M659.08 564.45V813.4M412.3 645.09H725.8M412.3 726.94H725.8M412.3 808.79H725.8" stroke="#EBEBEB" stroke-width="0.7" fill="none"/>
<path d="M454.85 564.45V813.4M539.5 564.45V813.4M616.75 564.45V813.4M701.4 564.45V813.4M412.3 602.3H725.8M412.3 687.9H725.8M412.3 766H725.8" stroke="#EBEBEB" stroke-width="1.35" fill="none"/>
<path d="M426.45 577.3L432.54 579.81L438.63 582.33L444.72 584.85L450.81 587.36L456.89 589.88L462.98 592.4L469.07 594.91L475.16 597.43L481.25 599.94L487.34 602.45L493.43 604.96L499.51 607.45L505.6 609.95L511.69 612.43L517.78 614.89L523.87 617.34L529.96 619.77L536.05 622.18L542.14 624.56L548.23 626.9L554.31 629.21L560.4 631.48L566.49 633.71L572.58 635.9L578.67 638.05L584.76 640.16L590.85 642.25L596.93 644.3L603.02 646.34L609.11 648.35L615.2 650.34L621.29 652.31L627.38 654.27L633.47 656.22L639.56 658.16L645.64 660.08L651.73 662L657.82 663.91L663.91 665.81L670 667.7L670 683.1L663.91 680.45L657.82 677.8L651.73 675.17L645.64 672.54L639.56 669.92L633.47 667.31L627.38 664.71L621.29 662.13L615.2 659.56L609.11 657L603.02 654.47L596.93 651.96L590.85 649.47L584.76 647.01L578.67 644.58L572.58 642.18L566.49 639.83L560.4 637.51L554.31 635.24L548.23 633L542.14 630.8L536.05 628.63L529.96 626.49L523.87 624.38L517.78 622.28L511.69 620.2L505.6 618.14L499.51 616.09L493.43 614.04L487.34 612L481.25 609.96L475.16 607.93L469.07 605.9L462.98 603.87L456.89 601.84L450.81 599.82L444.72 597.79L438.63 595.76L432.54 593.73L426.45 591.7Z" fill="#999999" fill-opacity="0.2"/>
<path d="M426.45 584.5L670 675.4" stroke="#3366FF" stroke-width="1.2" fill="none"/>
<circle cx="616.75" cy="651.1" r="5.5" fill="#BEAED4"/>
<circle cx="621.28" cy="651.7" r="5.5" fill="#BEAED4"/>
<circle cx="594.94" cy="659.1" r="5.5" fill="#BEAED4"/>
<circle cx="609.34" cy="661.4" r="5.5" fill="#BEAED4"/>
<circle cx="621.28" cy="661.4" r="5.5" fill="#BEAED4"/>
<circle cx="623.45" cy="667.1" r="5.5" fill="#BEAED4"/>
<circle cx="629.57" cy="666.5" r="5.5" fill="#BEAED4"/>
<circle cx="623.45" cy="673.9" r="5.5" fill="#BEAED4"/>
<circle cx="631.49" cy="676.7" r="5.5" fill="#BEAED4"/>
<circle cx="645.26" cy="678.7" r="5.5" fill="#BEAED4"/>
<circle cx="649.79" cy="688.5" r="5.5" fill="#BEAED4"/>
<circle cx="670.35" cy="710.3" r="5.5" fill="#BEAED4"/>
<path d="M426.34 593.77L434.09 606.87H418.59ZM454.85 593.77L462.6 606.87H447.1ZM475.07 593.77L482.82 606.87H467.32ZM490.76 593.77L498.51 606.87H483.01ZM503.58 593.77L511.33 606.87H495.83ZM523.81 593.77L531.56 606.87H516.06ZM539.5 593.77L547.25 606.87H531.75ZM490.76 600.77L498.51 613.87H483.01ZM490.76 609.17L498.51 622.26H483.01ZM503.58 603.57L511.33 616.66H495.83ZM503.58 615.67L511.33 628.76H495.83ZM514.42 604.57L522.17 617.66H506.67ZM523.81 601.57L531.56 614.66H516.06ZM523.81 610.47L531.56 623.57H516.06ZM523.81 620.97L531.56 634.07H516.06ZM532.09 602.17L539.84 615.26H524.34ZM532.09 610.17L539.84 623.26H524.34ZM532.09 622.37L539.84 635.47H524.34ZM539.5 601.57L547.25 614.66H531.75ZM546.2 610.67L553.95 623.76H538.45ZM546.2 627.57L553.95 640.66H538.45ZM546.2 638.87L553.95 651.97H538.45ZM552.32 605.37L560.07 618.47H544.57ZM552.32 625.77L560.07 638.87H544.57ZM557.95 625.47L565.7 638.57H550.2ZM563.16 630.57L570.91 643.66H555.41ZM572.55 605.77L580.3 618.87H564.8ZM568.01 617.97L575.76 631.07H560.26ZM576.81 619.07L584.56 632.16H569.06ZM584.63 622.47L592.38 635.57H576.88ZM598.06 627.97L605.81 641.07H590.31ZM606.68 631.57L614.43 644.66H598.93ZM572.55 637.47L580.3 650.57H564.8ZM580.83 637.47L588.58 650.57H573.08ZM589.97 636.77L597.72 649.87H582.22ZM576.81 651.77L584.56 664.87H569.06ZM475.07 642.67L482.82 655.76H467.32ZM523.81 647.97L531.56 661.07H516.06ZM572.55 627.27L580.3 640.37H564.8ZM580.83 629.27L588.58 642.37H573.08ZM591.67 631.27L599.42 644.37H583.92Z" fill="#E69F00"/>
<circle cx="609.34" cy="644.3" r="5.5" fill="#BEAED4"/>
</g>
<rect x="412.3" y="564.45" width="313.5" height="248.95" fill="none" stroke="#333333" stroke-width="1.2"/>
<g clip-path="url(#c22)">
<path d="M741.93 564.45V813.4M822.88 564.45V813.4M903.83 564.45V813.4M984.78 564.45V813.4M738 645.09H1051.5M738 726.94H1051.5M738 808.79H1051.5" stroke="#EBEBEB" stroke-width="0.7" fill="none"/>
<path d="M780.55 564.45V813.4M865.2 564.45V813.4M942.45 564.45V813.4M1027.1 564.45V813.4M738 602.3H1051.5M738 687.9H1051.5M738 766H1051.5" stroke="#EBEBEB" stroke-width="1.35" fill="none"/>
<path d="M752.1 584.2L758.27 586.48L764.44 588.76L770.61 591.04L776.78 593.33L782.95 595.61L789.12 597.9L795.29 600.19L801.46 602.48L807.63 604.77L813.8 607.06L819.97 609.34L826.14 611.62L832.31 613.89L838.48 616.15L844.65 618.4L850.82 620.64L856.99 622.85L863.16 625.05L869.33 627.21L875.5 629.35L881.67 631.45L887.84 633.51L894.01 635.54L900.18 637.53L906.35 639.47L912.52 641.39L918.69 643.27L924.86 645.13L931.03 646.96L937.2 648.77L943.37 650.57L949.54 652.34L955.71 654.1L961.88 655.85L968.05 657.58L974.22 659.3L980.39 661.02L986.56 662.72L992.73 664.41L998.9 666.1L998.9 681.5L992.73 679.03L986.56 676.57L980.39 674.12L974.22 671.68L968.05 669.24L961.88 666.82L955.71 664.41L949.54 662.02L943.37 659.64L937.2 657.28L931.03 654.93L924.86 652.61L918.69 650.31L912.52 648.04L906.35 645.8L900.18 643.59L894.01 641.43L887.84 639.3L881.67 637.2L875.5 635.15L869.33 633.13L863.16 631.14L856.99 629.18L850.82 627.24L844.65 625.32L838.48 623.42L832.31 621.53L826.14 619.64L819.97 617.77L813.8 615.89L807.63 614.03L801.46 612.16L795.29 610.29L789.12 608.43L782.95 606.56L776.78 604.69L770.61 602.82L764.44 600.95L758.27 599.08L752.1 597.2Z" fill="#999999" fill-opacity="0.2"/>
<path d="M752.1 590.7L998.9 673.8" stroke="#3366FF" stroke-width="1.2" fill="none"/>
<circle cx="935.04" cy="646.6" r="5.5" fill="#BEAED4"/>
<circle cx="926.76" cy="654" r="5.5" fill="#BEAED4"/>
<circle cx="932.38" cy="656.8" r="5.5" fill="#BEAED4"/>
<circle cx="940.06" cy="652.3" r="5.5" fill="#BEAED4"/>
<circle cx="944.75" cy="655.7" r="5.5" fill="#BEAED4"/>
<circle cx="917.37" cy="660" r="5.5" fill="#BEAED4"/>
<circle cx="920.64" cy="663.1" r="5.5" fill="#BEAED4"/>
<circle cx="932.38" cy="663.7" r="5.5" fill="#BEAED4"/>
<circle cx="949.15" cy="673.3" r="5.5" fill="#BEAED4"/>
<circle cx="959.07" cy="668.3" r="5.5" fill="#BEAED4"/>
<circle cx="972.5" cy="683.6" r="5.5" fill="#BEAED4"/>
<circle cx="998.94" cy="723.2" r="5.5" fill="#BEAED4"/>
<path d="M752.04 593.77L759.79 606.87H744.29ZM780.55 593.77L788.3 606.87H772.8ZM800.77 593.77L808.52 606.87H793.02ZM816.46 593.77L824.21 606.87H808.71ZM829.28 593.77L837.03 606.87H821.53ZM816.46 600.97L824.21 614.07H808.71ZM829.28 609.67L837.03 622.76H821.53ZM829.28 615.57L837.03 628.66H821.53ZM829.28 622.67L837.03 635.76H821.53ZM800.77 622.67L808.52 635.76H793.02ZM849.51 613.77L857.26 626.87H841.76ZM857.79 619.47L865.54 632.57H850.04ZM857.79 625.47L865.54 638.57H850.04ZM857.79 638.87L865.54 651.97H850.04ZM865.2 617.87L872.95 630.97H857.45ZM871.9 616.37L879.65 629.47H864.15ZM878.02 609.67L885.77 622.76H870.27ZM883.65 620.67L891.4 633.76H875.9ZM878.02 632.57L885.77 645.66H870.27ZM888.86 634.87L896.61 647.97H881.11ZM898.25 604.87L906 617.97H890.5ZM893.71 613.37L901.46 626.47H885.96ZM898.25 616.27L906 629.37H890.5ZM906.53 610.27L914.28 623.37H898.78ZM902.51 626.47L910.26 639.57H894.76ZM902.51 637.47L910.26 650.57H894.76ZM906.53 625.37L914.28 638.47H898.78ZM917.37 620.77L925.12 633.87H909.62ZM923.76 627.57L931.51 640.66H916.01ZM923.76 635.57L931.51 648.66H916.01ZM878.02 613.77L885.77 626.87H870.27Z" fill="#E69F00"/>
<circle cx="932.38" cy="638.4" r="5.5" fill="#BEAED4"/>
</g>
<rect x="738" y="564.45" width="313.5" height="248.95" fill="none" stroke="#333333" stroke-width="1.2"/>
<g clip-path="url(#c23)">
<path d="M1067.63 564.45V813.4M1148.58 564.45V813.4M1229.53 564.45V813.4M1310.48 564.45V813.4M1063.7 645.09H1377.2M1063.7 726.94H1377.2M1063.7 808.79H1377.2" stroke="#EBEBEB" stroke-width="0.7" fill="none"/>
<path d="M1106.25 564.45V813.4M1190.9 564.45V813.4M1268.15 564.45V813.4M1352.8 564.45V813.4M1063.7 602.3H1377.2M1063.7 687.9H1377.2M1063.7 766H1377.2" stroke="#EBEBEB" stroke-width="1.35" fill="none"/>
<path d="M1077.8 575.65L1084.05 577.97L1090.3 580.3L1096.55 582.62L1102.8 584.95L1109.04 587.28L1115.29 589.6L1121.54 591.93L1127.79 594.25L1134.04 596.57L1140.29 598.89L1146.54 601.21L1152.78 603.51L1159.03 605.81L1165.28 608.1L1171.53 610.38L1177.78 612.64L1184.03 614.89L1190.28 617.11L1196.53 619.3L1202.78 621.46L1209.02 623.58L1215.27 625.66L1221.52 627.7L1227.77 629.7L1234.02 631.66L1240.27 633.58L1246.52 635.47L1252.76 637.32L1259.01 639.15L1265.26 640.95L1271.51 642.74L1277.76 644.5L1284.01 646.26L1290.26 647.99L1296.51 649.72L1302.76 651.43L1309 653.14L1315.25 654.83L1321.5 656.52L1327.75 658.2L1327.75 673.6L1321.5 671.15L1315.25 668.71L1309 666.28L1302.76 663.86L1296.51 661.44L1290.26 659.04L1284.01 656.65L1277.76 654.28L1271.51 651.91L1265.26 649.57L1259.01 647.25L1252.76 644.95L1246.52 642.67L1240.27 640.43L1234.02 638.23L1227.77 636.06L1221.52 633.93L1215.27 631.84L1209.02 629.8L1202.78 627.79L1196.53 625.82L1190.28 623.89L1184.03 621.98L1177.78 620.1L1171.53 618.23L1165.28 616.38L1159.03 614.54L1152.78 612.72L1146.54 610.9L1140.29 609.08L1134.04 607.27L1127.79 605.47L1121.54 603.66L1115.29 601.86L1109.04 600.06L1102.8 598.26L1096.55 596.46L1090.3 594.66L1084.05 592.85L1077.8 591.05Z" fill="#999999" fill-opacity="0.2"/>
<path d="M1077.8 583.35L1327.75 665.9" stroke="#3366FF" stroke-width="1.2" fill="none"/>
<circle cx="1249.46" cy="643.7" r="5.5" fill="#BEAED4"/>
<circle cx="1265.76" cy="638.05" r="5.5" fill="#BEAED4"/>
<circle cx="1263.29" cy="641.5" r="5.5" fill="#BEAED4"/>
<circle cx="1265.76" cy="650.9" r="5.5" fill="#BEAED4"/>
<circle cx="1276.95" cy="649.1" r="5.5" fill="#BEAED4"/>
<circle cx="1274.85" cy="657.4" r="5.5" fill="#BEAED4"/>
<circle cx="1284.77" cy="660.8" r="5.5" fill="#BEAED4"/>
<circle cx="1286.59" cy="662" r="5.5" fill="#BEAED4"/>
<circle cx="1301.19" cy="672.2" r="5.5" fill="#BEAED4"/>
<circle cx="1299.71" cy="678.2" r="5.5" fill="#BEAED4"/>
<circle cx="1308.16" cy="681.3" r="5.5" fill="#BEAED4"/>
<circle cx="1327.72" cy="713.2" r="5.5" fill="#BEAED4"/>
<path d="M1077.74 593.77L1085.49 606.87H1069.99ZM1106.25 593.77L1114 606.87H1098.5ZM1126.47 593.77L1134.22 606.87H1118.72ZM1154.98 593.77L1162.73 606.87H1147.23ZM1165.82 593.77L1173.57 606.87H1158.07ZM1183.49 593.77L1191.24 606.87H1175.74ZM1142.16 600.97L1149.91 614.07H1134.41ZM1154.98 603.57L1162.73 616.66H1147.23ZM1175.21 596.47L1182.96 609.57H1167.46ZM1175.21 600.27L1182.96 613.37H1167.46ZM1175.21 603.07L1182.96 616.16H1167.46ZM1175.21 607.27L1182.96 620.37H1167.46ZM1165.82 608.57L1173.57 621.66H1158.07ZM1165.82 627.57L1173.57 640.66H1158.07ZM1154.98 658.57L1162.73 671.66H1147.23ZM1197.6 601.67L1205.35 614.76H1189.85ZM1190.9 611.37L1198.65 624.47H1183.15ZM1197.6 623.57L1205.35 636.66H1189.85ZM1209.35 607.77L1217.1 620.87H1201.6ZM1209.35 620.67L1217.1 633.76H1201.6ZM1219.41 596.27L1227.16 609.37H1211.66ZM1223.95 599.17L1231.7 612.26H1216.2ZM1219.41 607.37L1227.16 620.47H1211.66ZM1223.95 607.37L1231.7 620.47H1216.2ZM1219.41 620.47L1227.16 633.57H1211.66ZM1223.95 620.47L1231.7 633.57H1216.2ZM1228.21 616.77L1235.96 629.87H1220.46ZM1228.21 627.57L1235.96 640.66H1220.46ZM1236.03 620.17L1243.78 633.26H1228.28ZM1243.07 615.97L1250.82 629.07H1235.32ZM1246.34 627.57L1254.09 640.66H1238.59ZM1252.46 620.77L1260.21 633.87H1244.71ZM1255.33 620.77L1263.08 633.87H1247.58ZM1260.74 619.67L1268.49 632.76H1252.99ZM1219.41 602.27L1227.16 615.37H1211.66ZM1214.56 615.57L1222.31 628.66H1206.81ZM1223.95 611.27L1231.7 624.37H1216.2Z" fill="#E69F00"/>
</g>
<rect x="1063.7" y="564.45" width="313.5" height="248.95" fill="none" stroke="#333333" stroke-width="1.2"/>
<g clip-path="url(#c30)">
<path d="M90.53 825.45V1074.4M171.48 825.45V1074.4M252.43 825.45V1074.4M333.38 825.45V1074.4M86.6 906.09H400.1M86.6 987.94H400.1M86.6 1069.79H400.1" stroke="#EBEBEB" stroke-width="0.7" fill="none"/>
<path d="M129.15 825.45V1074.4M213.8 825.45V1074.4M291.05 825.45V1074.4M375.7 825.45V1074.4M86.6 863.3H400.1M86.6 948.9H400.1M86.6 1027H400.1" stroke="#EBEBEB" stroke-width="1.35" fill="none"/>
<path d="M100.8 863.05L105.93 863.63L111.05 864.2L116.18 864.77L121.31 865.33L126.44 865.88L131.56 866.43L136.69 866.97L141.82 867.5L146.95 868.03L152.07 868.54L157.2 869.03L162.33 869.52L167.46 869.98L172.58 870.43L177.71 870.86L182.84 871.26L187.97 871.63L193.09 871.98L198.22 872.3L203.35 872.58L208.48 872.82L213.6 873.03L218.73 873.2L223.86 873.34L228.99 873.43L234.11 873.49L239.24 873.52L244.37 873.51L249.5 873.48L254.62 873.41L259.75 873.33L264.88 873.22L270.01 873.09L275.13 872.95L280.26 872.79L285.39 872.61L290.52 872.42L295.64 872.23L300.77 872.02L305.9 871.8L305.9 892.6L300.77 892.03L295.64 891.46L290.52 890.9L285.39 890.36L280.26 889.83L275.13 889.31L270.01 888.81L264.88 888.32L259.75 887.86L254.62 887.41L249.5 886.99L244.37 886.6L239.24 886.24L234.11 885.9L228.99 885.61L223.86 885.34L218.73 885.12L213.6 884.93L208.48 884.78L203.35 884.67L198.22 884.6L193.09 884.55L187.97 884.54L182.84 884.56L177.71 884.61L172.58 884.67L167.46 884.76L162.33 884.87L157.2 885L152.07 885.14L146.95 885.29L141.82 885.46L136.69 885.63L131.56 885.81L126.44 886L121.31 886.2L116.18 886.41L111.05 886.62L105.93 886.83L100.8 887.05Z" fill="#999999" fill-opacity="0.2"/>
<path d="M100.8 875.05L305.9 882.2" stroke="#3366FF" stroke-width="1.2" fill="none"/>
<path d="M100.64 854.77L108.39 867.87H92.89ZM129.15 854.77L136.9 867.87H121.4ZM165.06 854.77L172.81 867.87H157.31ZM188.72 854.77L196.47 867.87H180.97ZM177.88 859.57L185.63 872.66H170.13ZM198.11 871.97L205.86 885.07H190.36ZM198.11 874.87L205.86 887.97H190.36ZM129.15 883.67L136.9 896.76H121.4ZM165.06 879.77L172.81 892.87H157.31ZM165.06 890.77L172.81 903.87H157.31ZM188.72 888.67L196.47 901.76H180.97ZM149.37 903.77L157.12 916.87H141.62ZM165.06 940.37L172.81 953.47H157.31ZM269.24 854.77L276.99 867.87H261.49ZM272.36 860.67L280.11 873.76H264.61ZM272.36 864.07L280.11 877.16H264.61Z" fill="#E69F00"/>
<circle cx="275.36" cy="877.7" r="5.5" fill="#BEAED4"/>
<circle cx="278.23" cy="879.95" r="5.5" fill="#BEAED4"/>
<circle cx="280.98" cy="883.9" r="5.5" fill="#BEAED4"/>
<circle cx="288.66" cy="896.2" r="5.5" fill="#BEAED4"/>
<circle cx="293.35" cy="905" r="5.5" fill="#BEAED4"/>
<circle cx="303.87" cy="921.7" r="5.5" fill="#BEAED4"/>
<circle cx="305.79" cy="927.7" r="5.5" fill="#BEAED4"/>
</g>
<rect x="86.6" y="825.45" width="313.5" height="248.95" fill="none" stroke="#333333" stroke-width="1.2"/>
<g clip-path="url(#c31)">
<path d="M416.23 825.45V1074.4M497.18 825.45V1074.4M578.13 825.45V1074.4M659.08 825.45V1074.4M412.3 906.09H725.8M412.3 987.94H725.8M412.3 1069.79H725.8" stroke="#EBEBEB" stroke-width="0.7" fill="none"/>
<path d="M454.85 825.45V1074.4M539.5 825.45V1074.4M616.75 825.45V1074.4M701.4 825.45V1074.4M412.3 863.3H725.8M412.3 948.9H725.8M412.3 1027H725.8" stroke="#EBEBEB" stroke-width="1.35" fill="none"/>
<path d="M426.45 868.1L431.54 868.68L436.62 869.25L441.71 869.82L446.79 870.39L451.88 870.95L456.97 871.51L462.05 872.07L467.14 872.61L472.23 873.15L477.31 873.68L482.4 874.19L487.49 874.69L492.57 875.18L497.66 875.65L502.74 876.1L507.83 876.53L512.92 876.93L518 877.3L523.09 877.64L528.17 877.95L533.26 878.21L538.35 878.44L543.43 878.63L548.52 878.78L553.61 878.89L558.69 878.97L563.78 879L568.87 879L573.95 878.97L579.04 878.9L584.12 878.81L589.21 878.69L594.3 878.55L599.38 878.39L604.47 878.22L609.55 878.02L614.64 877.81L619.73 877.59L624.81 877.35L629.9 877.1L629.9 899.5L624.81 898.85L619.73 898.2L614.64 897.58L609.55 896.96L604.47 896.36L599.38 895.78L594.3 895.21L589.21 894.67L584.12 894.15L579.04 893.65L573.95 893.18L568.87 892.74L563.78 892.33L558.69 891.96L553.61 891.63L548.52 891.34L543.43 891.08L538.35 890.87L533.26 890.69L528.17 890.55L523.09 890.46L518 890.39L512.92 890.36L507.83 890.35L502.74 890.37L497.66 890.42L492.57 890.48L487.49 890.57L482.4 890.66L477.31 890.77L472.23 890.9L467.14 891.03L462.05 891.17L456.97 891.32L451.88 891.47L446.79 891.63L441.71 891.79L436.62 891.96L431.54 892.13L426.45 892.3Z" fill="#999999" fill-opacity="0.2"/>
<path d="M426.45 880.2L629.9 888.3" stroke="#3366FF" stroke-width="1.2" fill="none"/>
<path d="M426.34 854.77L434.09 867.87H418.59ZM454.85 854.77L462.6 867.87H447.1ZM475.07 867.67L482.82 880.76H467.32ZM490.76 870.57L498.51 883.66H483.01ZM454.85 883.67L462.6 896.76H447.1ZM523.81 885.77L531.56 898.87H516.06ZM532.09 889.97L539.84 903.07H524.34ZM532.09 893.07L539.84 906.16H524.34ZM539.5 890.87L547.25 903.97H531.75ZM563.16 882.97L570.91 896.07H555.41ZM514.42 914.77L522.17 927.87H506.67ZM454.85 932.67L462.6 945.76H447.1ZM475.07 932.67L482.82 945.76H467.32ZM490.76 940.37L498.51 953.47H483.01ZM594.94 854.77L602.69 867.87H587.19ZM598.06 860.67L605.81 873.76H590.31ZM601.06 865.77L608.81 878.87H593.31Z" fill="#E69F00"/>
<circle cx="601.06" cy="874.8" r="5.5" fill="#BEAED4"/>
<circle cx="606.68" cy="880.5" r="5.5" fill="#BEAED4"/>
<circle cx="611.89" cy="892.5" r="5.5" fill="#BEAED4"/>
<circle cx="614.36" cy="894.7" r="5.5" fill="#BEAED4"/>
<circle cx="623.45" cy="910.1" r="5.5" fill="#BEAED4"/>
<circle cx="629.57" cy="918.6" r="5.5" fill="#BEAED4"/>
<circle cx="588.24" cy="935.4" r="5.5" fill="#BEAED4"/>
</g>
<rect x="412.3" y="825.45" width="313.5" height="248.95" fill="none" stroke="#333333" stroke-width="1.2"/>
<g clip-path="url(#c32)">
<path d="M741.93 825.45V1074.4M822.88 825.45V1074.4M903.83 825.45V1074.4M984.78 825.45V1074.4M738 906.09H1051.5M738 987.94H1051.5M738 1069.79H1051.5" stroke="#EBEBEB" stroke-width="0.7" fill="none"/>
<path d="M780.55 825.45V1074.4M865.2 825.45V1074.4M942.45 825.45V1074.4M1027.1 825.45V1074.4M738 863.3H1051.5M738 948.9H1051.5M738 1027H1051.5" stroke="#EBEBEB" stroke-width="1.35" fill="none"/>
<path d="M752.1 857.8L757.45 859.19L762.79 860.57L768.13 861.95L773.48 863.33L778.83 864.7L784.17 866.06L789.51 867.42L794.86 868.75L800.21 870.07L805.55 871.37L810.89 872.65L816.24 873.89L821.59 875.1L826.93 876.26L832.27 877.37L837.62 878.43L842.97 879.42L848.31 880.34L853.65 881.18L859 881.95L864.35 882.65L869.69 883.26L875.03 883.8L880.38 884.27L885.73 884.68L891.07 885.02L896.41 885.31L901.76 885.56L907.11 885.76L912.45 885.92L917.79 886.04L923.14 886.13L928.49 886.2L933.83 886.23L939.17 886.24L944.52 886.23L949.87 886.2L955.21 886.15L960.55 886.09L965.9 886L965.9 929L960.55 927.25L955.21 925.53L949.87 923.82L944.52 922.13L939.17 920.46L933.83 918.81L928.49 917.18L923.14 915.59L917.79 914.02L912.45 912.48L907.11 910.98L901.76 909.52L896.41 908.11L891.07 906.74L885.73 905.42L880.38 904.17L875.03 902.98L869.69 901.86L864.35 900.81L859 899.85L853.65 898.96L848.31 898.14L842.97 897.4L837.62 896.73L832.27 896.13L826.93 895.58L821.59 895.08L816.24 894.63L810.89 894.21L805.55 893.83L800.21 893.47L794.86 893.13L789.51 892.8L784.17 892.5L778.83 892.2L773.48 891.91L768.13 891.63L762.79 891.35L757.45 891.07L752.1 890.8Z" fill="#999999" fill-opacity="0.2"/>
<path d="M752.1 874.3L965.9 907.5" stroke="#3366FF" stroke-width="1.2" fill="none"/>
<path d="M752.04 854.77L759.79 867.87H744.29ZM780.55 854.77L788.3 867.87H772.8ZM800.77 854.77L808.52 867.87H793.02ZM829.28 854.77L837.03 867.87H821.53ZM840.12 854.77L847.87 867.87H832.37ZM888.86 854.77L896.61 867.87H881.11ZM780.55 883.67L788.3 896.76H772.8ZM800.77 883.67L808.52 896.76H793.02ZM840.12 878.57L847.87 891.66H832.37ZM849.51 894.57L857.26 907.66H841.76ZM865.2 896.57L872.95 909.66H857.45ZM800.77 903.77L808.52 916.87H793.02ZM780.55 932.67L788.3 945.76H772.8ZM800.77 932.67L808.52 945.76H793.02ZM893.71 864.67L901.46 877.76H885.96ZM898.25 867.77L906 880.87H890.5ZM893.71 871.47L901.46 884.57H885.96Z" fill="#E69F00"/>
<circle cx="898.25" cy="881.7" r="5.5" fill="#BEAED4"/>
<circle cx="902.51" cy="883.4" r="5.5" fill="#BEAED4"/>
<circle cx="906.53" cy="890.8" r="5.5" fill="#BEAED4"/>
<circle cx="913.94" cy="898.2" r="5.5" fill="#BEAED4"/>
<circle cx="920.64" cy="910.3" r="5.5" fill="#BEAED4"/>
<circle cx="926.76" cy="924" r="5.5" fill="#BEAED4"/>
<circle cx="966.1" cy="991.4" r="5.5" fill="#BEAED4"/>
</g>
<rect x="738" y="825.45" width="313.5" height="248.95" fill="none" stroke="#333333" stroke-width="1.2"/>
<g clip-path="url(#c33)">
<path d="M1067.63 825.45V1074.4M1148.58 825.45V1074.4M1229.53 825.45V1074.4M1310.48 825.45V1074.4M1063.7 906.09H1377.2M1063.7 987.94H1377.2M1063.7 1069.79H1377.2" stroke="#EBEBEB" stroke-width="0.7" fill="none"/>
<path d="M1106.25 825.45V1074.4M1190.9 825.45V1074.4M1268.15 825.45V1074.4M1352.8 825.45V1074.4M1063.7 863.3H1377.2M1063.7 948.9H1377.2M1063.7 1027H1377.2" stroke="#EBEBEB" stroke-width="1.35" fill="none"/>
<path d="M1077.8 851.2L1083.3 853.1L1088.81 855L1094.31 856.9L1099.81 858.81L1105.31 860.72L1110.82 862.63L1116.32 864.53L1121.82 866.44L1127.32 868.34L1132.83 870.22L1138.33 872.1L1143.83 873.97L1149.33 875.81L1154.84 877.64L1160.34 879.43L1165.84 881.19L1171.34 882.92L1176.85 884.6L1182.35 886.22L1187.85 887.8L1193.35 889.33L1198.86 890.8L1204.36 892.22L1209.86 893.58L1215.36 894.91L1220.87 896.19L1226.37 897.43L1231.87 898.64L1237.37 899.81L1242.88 900.96L1248.38 902.08L1253.88 903.18L1259.38 904.26L1264.88 905.31L1270.39 906.35L1275.89 907.37L1281.39 908.38L1286.89 909.37L1292.4 910.34L1297.9 911.3L1297.9 939.1L1292.4 936.83L1286.89 934.57L1281.39 932.33L1275.89 930.11L1270.39 927.9L1264.88 925.71L1259.38 923.53L1253.88 921.38L1248.38 919.25L1242.88 917.14L1237.37 915.06L1231.87 913L1226.37 910.98L1220.87 908.99L1215.36 907.04L1209.86 905.14L1204.36 903.27L1198.86 901.46L1193.35 899.7L1187.85 898L1182.35 896.35L1176.85 894.74L1171.34 893.19L1165.84 891.69L1160.34 890.22L1154.84 888.78L1149.33 887.38L1143.83 885.99L1138.33 884.63L1132.83 883.28L1127.32 881.93L1121.82 880.6L1116.32 879.28L1110.82 877.95L1105.31 876.63L1099.81 875.31L1094.31 873.99L1088.81 872.66L1083.3 871.33L1077.8 870Z" fill="#999999" fill-opacity="0.2"/>
<path d="M1077.8 860.6L1297.9 925.2" stroke="#3366FF" stroke-width="1.2" fill="none"/>
<path d="M1077.74 854.77L1085.49 867.87H1069.99ZM1106.25 854.77L1114 867.87H1098.5ZM1126.47 854.77L1134.22 867.87H1118.72ZM1209.35 854.77L1217.1 867.87H1201.6ZM1126.47 867.67L1134.22 880.76H1118.72ZM1219.41 865.37L1227.16 878.47H1211.66ZM1219.41 868.57L1227.16 881.66H1211.66ZM1106.25 883.67L1114 896.76H1098.5ZM1126.47 883.67L1134.22 896.76H1118.72ZM1142.16 879.97L1149.91 893.07H1134.41ZM1165.82 873.87L1173.57 886.97H1158.07ZM1175.21 875.17L1182.96 888.26H1167.46ZM1175.21 878.57L1182.96 891.66H1167.46ZM1190.9 878.57L1198.65 891.66H1183.15ZM1126.47 903.77L1134.22 916.87H1118.72ZM1165.82 900.57L1173.57 913.66H1158.07ZM1183.49 896.57L1191.24 909.66H1175.74ZM1209.35 893.77L1217.1 906.87H1201.6Z" fill="#E69F00"/>
<circle cx="1209.35" cy="907.4" r="5.5" fill="#BEAED4"/>
<circle cx="1214.56" cy="927.4" r="5.5" fill="#BEAED4"/>
<circle cx="1228.21" cy="893.6" r="5.5" fill="#BEAED4"/>
<circle cx="1232.23" cy="892.2" r="5.5" fill="#BEAED4"/>
<circle cx="1239.64" cy="899.6" r="5.5" fill="#BEAED4"/>
<circle cx="1239.64" cy="913.5" r="5.5" fill="#BEAED4"/>
<circle cx="1249.46" cy="912.4" r="5.5" fill="#BEAED4"/>
<circle cx="1258.08" cy="929.8" r="5.5" fill="#BEAED4"/>
<circle cx="1298.2" cy="990.5" r="5.5" fill="#BEAED4"/>
</g>
<rect x="1063.7" y="825.45" width="313.5" height="248.95" fill="none" stroke="#333333" stroke-width="1.2"/>
<rect x="86.6" y="0" width="313.5" height="42.45" fill="#D9D9D9" stroke="#333333" stroke-width="1.2"/>
<rect x="412.3" y="0" width="313.5" height="42.45" fill="#D9D9D9" stroke="#333333" stroke-width="1.2"/>
<rect x="738" y="0" width="313.5" height="42.45" fill="#D9D9D9" stroke="#333333" stroke-width="1.2"/>
<rect x="1063.7" y="0" width="313.5" height="42.45" fill="#D9D9D9" stroke="#333333" stroke-width="1.2"/>
<rect x="1377.2" y="42.45" width="42.3" height="248.95" fill="#D9D9D9" stroke="#333333" stroke-width="1.2"/>
<rect x="1377.2" y="303.45" width="42.3" height="248.95" fill="#D9D9D9" stroke="#333333" stroke-width="1.2"/>
<rect x="1377.2" y="564.45" width="42.3" height="248.95" fill="#D9D9D9" stroke="#333333" stroke-width="1.2"/>
<rect x="1377.2" y="825.45" width="42.3" height="248.95" fill="#D9D9D9" stroke="#333333" stroke-width="1.2"/>
<path d="M80.2 80.3H86.6M80.2 165.9H86.6M80.2 244H86.6M80.2 341.3H86.6M80.2 426.9H86.6M80.2 505H86.6M80.2 602.3H86.6M80.2 687.9H86.6M80.2 766H86.6M80.2 863.3H86.6M80.2 948.9H86.6M80.2 1027H86.6M129.15 1074.4V1080.9M213.8 1074.4V1080.9M291.05 1074.4V1080.9M375.7 1074.4V1080.9M454.85 1074.4V1080.9M539.5 1074.4V1080.9M616.75 1074.4V1080.9M701.4 1074.4V1080.9M780.55 1074.4V1080.9M865.2 1074.4V1080.9M942.45 1074.4V1080.9M1027.1 1074.4V1080.9M1106.25 1074.4V1080.9M1190.9 1074.4V1080.9M1268.15 1074.4V1080.9M1352.8 1074.4V1080.9" stroke="#333333" stroke-width="1.2" fill="none"/>
<g filter="url(#idf)"><text x="243.35" y="30.9" font-size="28.3" text-anchor="middle" fill="#1A1A1A" textLength="126" lengthAdjust="spacing">2000-04-25</text>
<text x="569.05" y="30.9" font-size="28.3" text-anchor="middle" fill="#1A1A1A" textLength="126" lengthAdjust="spacing">2000-07-26</text>
<text x="894.75" y="30.9" font-size="28.3" text-anchor="middle" fill="#1A1A1A" textLength="126" lengthAdjust="spacing">2000-10-24</text>
<text x="1220.45" y="30.9" font-size="28.3" text-anchor="middle" fill="#1A1A1A" textLength="126" lengthAdjust="spacing">2001-01-22</text>
<text transform="translate(1388.3 166.93) rotate(90)" font-size="28" text-anchor="middle" fill="#1A1A1A" textLength="104.6" lengthAdjust="spacingAndGlyphs">Codeface</text>
<text transform="translate(1388.3 427.92) rotate(90)" font-size="28" text-anchor="middle" fill="#1A1A1A" textLength="80.9" lengthAdjust="spacingAndGlyphs">git2net</text>
<text transform="translate(1388.3 688.93) rotate(90)" font-size="28" text-anchor="middle" fill="#1A1A1A" textLength="149" lengthAdjust="spacingAndGlyphs">GrimoireLab</text>
<text transform="translate(1388.3 949.93) rotate(90)" font-size="28" text-anchor="middle" fill="#1A1A1A" textLength="91.6" lengthAdjust="spacingAndGlyphs">Kaiaulu</text>
<text x="77.8" y="90.3" font-size="28.5" letter-spacing="1" text-anchor="end" fill="#4D4D4D">1.0</text>
<text x="77.8" y="175.9" font-size="28.5" letter-spacing="1" text-anchor="end" fill="#4D4D4D">0.3</text>
<text x="77.8" y="254" font-size="28.5" letter-spacing="1" text-anchor="end" fill="#4D4D4D">0.1</text>
<text x="77.8" y="351.3" font-size="28.5" letter-spacing="1" text-anchor="end" fill="#4D4D4D">1.0</text>
<text x="77.8" y="436.9" font-size="28.5" letter-spacing="1" text-anchor="end" fill="#4D4D4D">0.3</text>
<text x="77.8" y="515" font-size="28.5" letter-spacing="1" text-anchor="end" fill="#4D4D4D">0.1</text>
<text x="77.8" y="612.3" font-size="28.5" letter-spacing="1" text-anchor="end" fill="#4D4D4D">1.0</text>
<text x="77.8" y="697.9" font-size="28.5" letter-spacing="1" text-anchor="end" fill="#4D4D4D">0.3</text>
<text x="77.8" y="776" font-size="28.5" letter-spacing="1" text-anchor="end" fill="#4D4D4D">0.1</text>
<text x="77.8" y="873.3" font-size="28.5" letter-spacing="1" text-anchor="end" fill="#4D4D4D">1.0</text>
<text x="77.8" y="958.9" font-size="28.5" letter-spacing="1" text-anchor="end" fill="#4D4D4D">0.3</text>
<text x="77.8" y="1037" font-size="28.5" letter-spacing="1" text-anchor="end" fill="#4D4D4D">0.1</text>
<text x="129.15" y="1105.4" font-size="28.5" letter-spacing="0.6" text-anchor="middle" fill="#4D4D4D">3</text>
<text x="213.8" y="1105.4" font-size="28.5" letter-spacing="0.6" text-anchor="middle" fill="#4D4D4D">10</text>
<text x="291.05" y="1105.4" font-size="28.5" letter-spacing="0.6" text-anchor="middle" fill="#4D4D4D">30</text>
<text x="375.7" y="1105.4" font-size="28.5" letter-spacing="0.6" text-anchor="middle" fill="#4D4D4D">100</text>
<text x="454.85" y="1105.4" font-size="28.5" letter-spacing="0.6" text-anchor="middle" fill="#4D4D4D">3</text>
<text x="539.5" y="1105.4" font-size="28.5" letter-spacing="0.6" text-anchor="middle" fill="#4D4D4D">10</text>
<text x="616.75" y="1105.4" font-size="28.5" letter-spacing="0.6" text-anchor="middle" fill="#4D4D4D">30</text>
<text x="701.4" y="1105.4" font-size="28.5" letter-spacing="0.6" text-anchor="middle" fill="#4D4D4D">100</text>
<text x="780.55" y="1105.4" font-size="28.5" letter-spacing="0.6" text-anchor="middle" fill="#4D4D4D">3</text>
<text x="865.2" y="1105.4" font-size="28.5" letter-spacing="0.6" text-anchor="middle" fill="#4D4D4D">10</text>
<text x="942.45" y="1105.4" font-size="28.5" letter-spacing="0.6" text-anchor="middle" fill="#4D4D4D">30</text>
<text x="1027.1" y="1105.4" font-size="28.5" letter-spacing="0.6" text-anchor="middle" fill="#4D4D4D">100</text>
<text x="1106.25" y="1105.4" font-size="28.5" letter-spacing="0.6" text-anchor="middle" fill="#4D4D4D">3</text>
<text x="1190.9" y="1105.4" font-size="28.5" letter-spacing="0.6" text-anchor="middle" fill="#4D4D4D">10</text>
<text x="1268.15" y="1105.4" font-size="28.5" letter-spacing="0.6" text-anchor="middle" fill="#4D4D4D">30</text>
<text x="1352.8" y="1105.4" font-size="28.5" letter-spacing="0.6" text-anchor="middle" fill="#4D4D4D">100</text>
<text x="731.9" y="1135.5" font-size="30.8" text-anchor="middle" fill="#000">Node Degree</text>
<text transform="translate(28.6 629.25) rotate(-90)" font-size="30.3" text-anchor="middle" fill="#000" textLength="129.6" lengthAdjust="spacingAndGlyphs">Clustering</text>
<text transform="translate(28.6 488.25) rotate(-90)" font-size="30.3" text-anchor="middle" fill="#000" textLength="129.8" lengthAdjust="spacingAndGlyphs">Coefficient</text></g>
</svg>
</body></html>
